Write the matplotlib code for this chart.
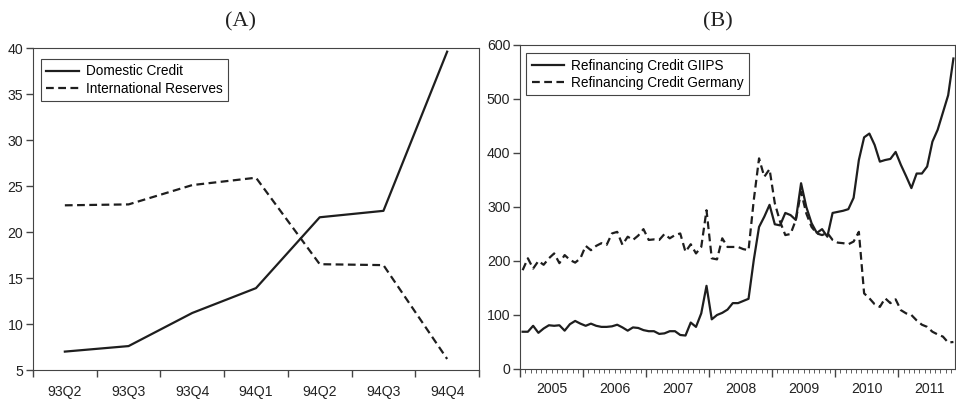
import numpy as np
import matplotlib
matplotlib.use("Agg")
import matplotlib.pyplot as plt
from matplotlib.ticker import FixedLocator, NullFormatter

# panel A: quarterly series
quarters = ["93Q2", "93Q3", "93Q4", "94Q1", "94Q2", "94Q3", "94Q4"]
domestic_credit = [7.0, 7.6, 11.2, 13.9, 21.6, 22.3, 39.6]
intl_reserves = [22.9, 23.0, 25.1, 25.9, 16.5, 16.4, 6.2]

# panel B: monthly series, Jan 2005 - Nov 2011
years = ["2005", "2006", "2007", "2008", "2009", "2010", "2011"]
refi_giips = [
    69, 69, 80, 67, 75, 81, 80, 81, 71, 83, 89, 84,
    80, 84, 80, 78, 78, 79, 82, 77, 71, 77, 76, 72,
    70, 70, 65, 66, 70, 70, 63, 62, 86, 78, 103, 154,
    92, 100, 104, 110, 122, 122, 126, 130, 202, 263, 282, 304,
    268, 266, 289, 285, 276, 344, 300, 270, 252, 259, 245, 289,
    291, 293, 296, 317, 387, 429, 436, 415, 384, 387, 389, 402,
    378, 357, 335, 362, 362, 375, 421, 443, 475, 507, 575,
]
refi_germany = [
    183, 205, 186, 200, 193, 205, 214, 196, 211, 202, 197, 205,
    228, 220, 228, 233, 230, 251, 254, 230, 245, 239, 247, 259,
    239, 240, 239, 250, 242, 248, 251, 217, 231, 214, 226, 294,
    205, 203, 242, 226, 226, 226, 222, 220, 313, 390, 356, 370,
    307, 273, 248, 250, 276, 328, 288, 263, 251, 248, 252, 239,
    234, 233, 231, 236, 254, 140, 131, 120, 115, 131, 122, 129,
    109, 103, 100, 90, 82, 78, 69, 64, 60, 49, 50,
]

plt.rcParams['font.family'] = ['Liberation Sans', 'DejaVu Sans']
plt.rcParams['font.size'] = 10.2
plt.rcParams['axes.edgecolor'] = '#444444'
plt.rcParams['xtick.color'] = '#444444'
plt.rcParams['ytick.color'] = '#444444'
plt.rcParams['xtick.labelcolor'] = '#222222'
plt.rcParams['ytick.labelcolor'] = '#222222'

fig = plt.figure(figsize=(9.56, 3.99), dpi=100)
W, H = 956, 399
axA = fig.add_axes([33 / W, 29 / H, (479 - 33) / W, (370 - 48) / H])
axB = fig.add_axes([520 / W, 30 / H, (955 - 520) / W, (369 - 45) / H])

lc = '#1e1e1e'
dash = (0, (3.5, 2))
legend_kw = dict(loc='upper left', fancybox=False, framealpha=1,
                 edgecolor='#444444', handlelength=2.4, borderaxespad=0,
                 borderpad=0.4, labelspacing=0.25, handletextpad=0.5,
                 fontsize=9.8)

# ---- (A)
x = np.arange(len(quarters))
axA.plot(x, domestic_credit, color=lc, lw=1.6, label="Domestic Credit")
axA.plot(x, intl_reserves, color=lc, lw=1.6, ls=dash, label="International Reserves")
axA.set_xlim(-0.5, len(quarters) - 0.5)
axA.set_ylim(5, 40)
axA.set_yticks(np.arange(5, 41, 5))
axA.xaxis.set_major_locator(FixedLocator(np.arange(-0.5, len(quarters), 1.0)))
axA.xaxis.set_major_formatter(NullFormatter())
axA.xaxis.set_minor_locator(FixedLocator(x))
axA.set_xticklabels(quarters, minor=True)
axA.tick_params(axis='x', which='minor', length=0, pad=11)
axA.tick_params(axis='x', which='major', length=5, width=1)
axA.tick_params(axis='y', length=5, width=1, pad=2)
leg = axA.legend(bbox_to_anchor=(0.018, 0.966), **legend_kw)
leg.get_frame().set_linewidth(0.8)

# ---- (B)
m = np.arange(len(refi_giips))
axB.plot(m, refi_giips, color=lc, lw=1.6, label="Refinancing Credit GIIPS")
axB.plot(m, refi_germany, color=lc, lw=1.6, ls=dash, label="Refinancing Credit Germany")
axB.set_xlim(-0.5, 82.3)
axB.set_ylim(0, 600)
axB.set_yticks(np.arange(0, 601, 100))
axB.xaxis.set_major_locator(FixedLocator(np.arange(-0.5, 83, 12)))
axB.xaxis.set_major_formatter(NullFormatter())
axB.xaxis.set_minor_locator(FixedLocator(np.arange(-0.5, 83, 1)))
axB.tick_params(axis='x', which='major', length=6, width=1)
axB.tick_params(axis='x', which='minor', length=3, width=0.6)
axB.tick_params(axis='y', length=5, width=1, pad=2)
for i, yr in enumerate(years):
    axB.text(5.5 + 12 * i, -0.04, yr, transform=axB.get_xaxis_transform(),
             ha='center', va='top', color='#222222', fontsize=10.2)
leg = axB.legend(bbox_to_anchor=(0.014, 0.975), **legend_kw)
leg.get_frame().set_linewidth(0.8)

# panel titles
for cx, lab in [(240, "(A)"), (718, "(B)")]:
    fig.text(cx / W, 1 - 22 / H, lab, family=['Liberation Serif'], fontsize=16,
             ha='center', va='center', color='#222222')

fig.savefig("out.png", dpi=100)
